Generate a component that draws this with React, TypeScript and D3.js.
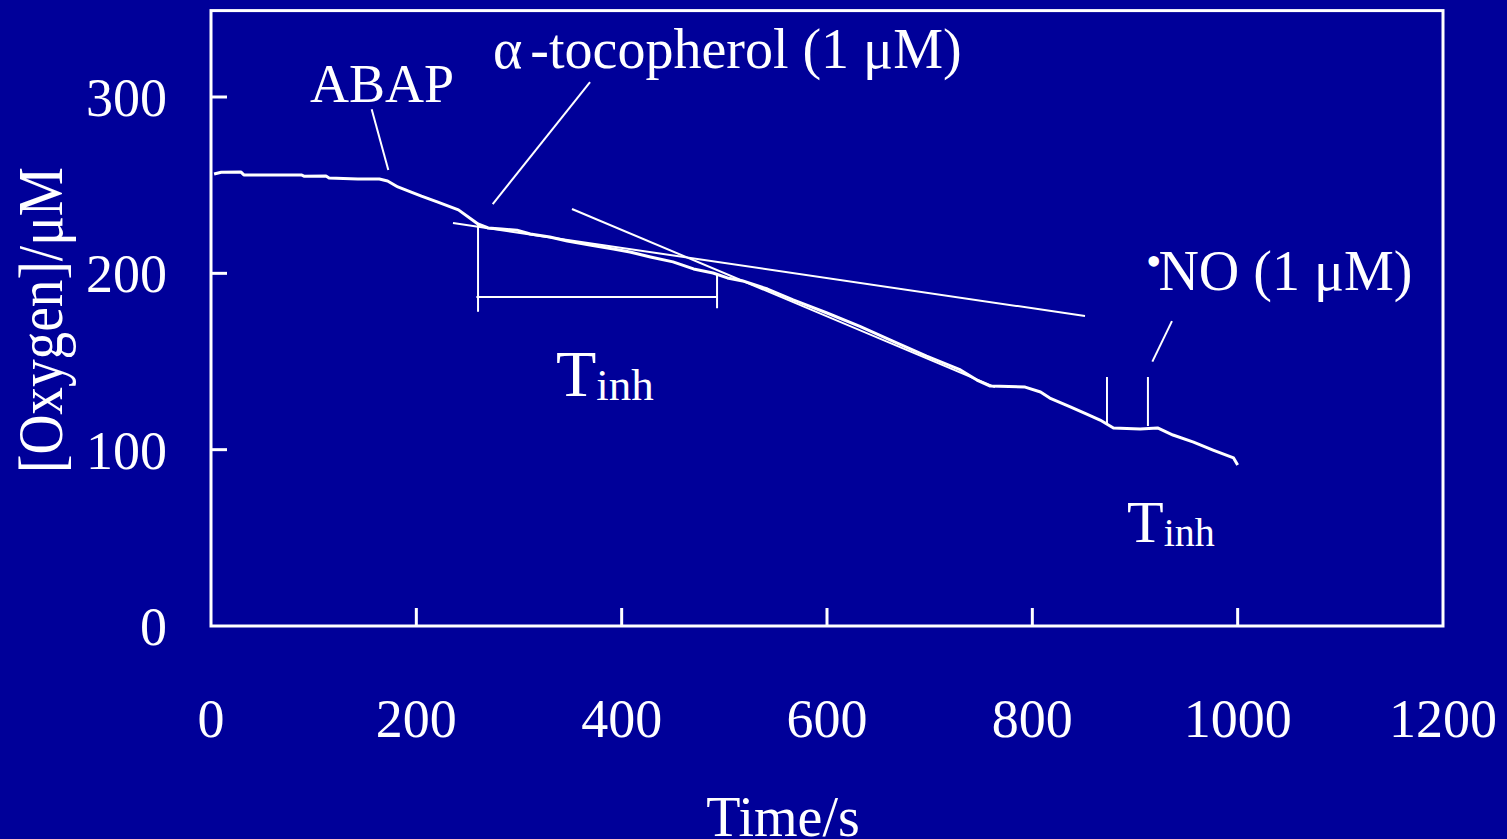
import React from "react";
import * as d3 from "d3";

// oxygen electrode trace
const timeS = [
  3, 10, 29, 32, 88, 91, 112, 115, 143, 164, 172, 182, 195, 205, 221, 241, 256,
  260, 270, 283, 298, 311, 330, 347, 369, 392, 408, 428, 450, 470, 489, 503, 518,
  542, 567, 600, 632, 664, 697, 730, 746, 759, 793, 808, 817, 837, 853, 866, 879,
  905, 922, 937, 957, 976, 996, 1000,
];
const oxygenUM = [
  256.3, 257.3, 257.5, 255.8, 255.8, 255.0, 255.2, 254.1, 253.5, 253.5, 252.4,
  249.0, 246.1, 243.8, 240.4, 236.0, 229.7, 228.0, 225.7, 225.1, 224.5, 222.3,
  220.6, 218.3, 216.1, 213.8, 212.1, 209.3, 206.5, 202.5, 200.2, 197.4, 195.7,
  191.1, 184.9, 177.5, 169.9, 161.6, 153.1, 145.2, 139.5, 136.1, 135.5, 132.7,
  129.3, 124.2, 120.2, 116.8, 112.3, 111.7, 112.3, 108.3, 104.3, 99.8, 95.3, 91.3,
];

const xTicks = [0, 200, 400, 600, 800, 1000, 1200];
const yTicks = [0, 100, 200, 300];

// [t1, o1, t2, o2] segments drawn over the trace
const tangentLines = [
  [235.7, 228.5, 851.3, 175.8], // slow (inhibited) rate
  [351.6, 236.5, 763.6, 135.5], // uninhibited rate
];
const bracketLines = [
  [260.1, 227.4, 260.1, 178.2],
  [258.5, 186.6, 492.9, 186.6],
  [492.9, 200.2, 492.9, 180.2],
  [872.7, 141.2, 872.7, 114.0],
  [912.6, 141.2, 912.6, 113.4],
];
const calloutLines = [
  [156.5, 293.1, 172.7, 258.6], // ABAP
  [369.2, 308.5, 274.4, 239.3], // alpha-tocopherol
  [936.0, 172.9, 916.9, 149.9], // NO
];

const BG = "#000099";
const FONT = "'Times New Roman', 'Liberation Serif', serif";

export default function App() {
  const x = d3.scaleLinear().domain([0, 1200]).range([211, 1443]);
  const y = d3.scaleLinear().domain([0, 300]).range([626, 97]);
  const top = y(349);

  const line = d3
    .line<number>()
    .x((_, i) => x(timeS[i]))
    .y((d) => y(d));

  const seg = (s: number[], k: string, w: number) => (
    <line
      key={k}
      x1={x(s[0])}
      y1={y(s[1])}
      x2={x(s[2])}
      y2={y(s[3])}
      stroke="white"
      strokeWidth={w}
    />
  );

  return (
    <svg
      width={1507}
      height={839}
      style={{ position: "absolute", left: 0, top: 0 }}
      fontFamily={FONT}
    >
      <rect width={1507} height={839} fill={BG} />

      {/* frame */}
      <rect
        x={x(0)}
        y={top}
        width={x(1200) - x(0)}
        height={y(0) - top}
        fill="none"
        stroke="white"
        strokeWidth={3}
      />

      {xTicks.slice(1, -1).map((t) => (
        <line key={"xt" + t} x1={x(t)} x2={x(t)} y1={y(0)} y2={y(0) - 18} stroke="white" strokeWidth={3} />
      ))}
      {yTicks.slice(1).map((t) => (
        <line key={"yt" + t} x1={x(0)} x2={x(0) + 16} y1={y(t)} y2={y(t)} stroke="white" strokeWidth={3} />
      ))}

      {xTicks.map((t) => (
        <text key={"xl" + t} x={x(t)} y={737} fill="white" fontSize={54} textAnchor="middle">
          {t}
        </text>
      ))}
      {yTicks.map((t) => (
        <text key={"yl" + t} x={167} y={y(t) + 19} fill="white" fontSize={54} textAnchor="end">
          {t}
        </text>
      ))}

      <text x={783} y={836} fill="white" fontSize={56} textAnchor="middle">
        Time/s
      </text>
      <text
        transform="translate(62,320) rotate(-90)"
        fill="white"
        fontSize={64}
        textAnchor="middle"
        textLength={306}
        lengthAdjust="spacingAndGlyphs"
      >
        [Oxygen]/μM
      </text>

      {/* trace */}
      <path d={line(oxygenUM) ?? ""} fill="none" stroke="white" strokeWidth={3} strokeLinejoin="round" />

      {tangentLines.map((s, i) => seg(s, "tg" + i, 2))}
      {bracketLines.map((s, i) => seg(s, "br" + i, 2))}
      {calloutLines.map((s, i) => seg(s, "cl" + i, 2))}

      {/* annotations */}
      <text x={310} y={102} fill="white" fontSize={54}>
        ABAP
      </text>
      <text x={493} y={68} fill="white" fontSize={56}>
        α<tspan dx={8}>-tocopherol (1 μM)</tspan>
      </text>
      <text x={1146} y={290} fill="white" fontSize={56}>
        <tspan fontSize={44} dy={-14}>•</tspan>
        <tspan dx={-3} dy={14}>NO (1 μM)</tspan>
      </text>
      <text x={556} y={396} fill="white" fontSize={66}>
        T<tspan fontSize={45} dy={4}>inh</tspan>
      </text>
      <text x={1127} y={542} fill="white" fontSize={60}>
        T<tspan fontSize={40} dy={4}>inh</tspan>
      </text>
    </svg>
  );
}
